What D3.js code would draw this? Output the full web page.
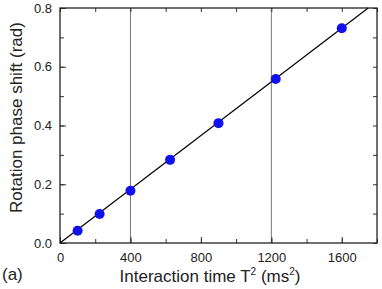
<!DOCTYPE html>
<html>
<head>
<meta charset="utf-8">
<script src="https://cdn.jsdelivr.net/npm/d3@7"></script>
<style>
  body { margin: 0; background: #fff; }
  text { font-family: "Liberation Sans", Arial, sans-serif; fill: #222; }
</style>
</head>
<body>
<div id="chart"></div>
<script>
// interaction time squared (ms^2) and measured phase shift (rad)
const tSquared = [100, 225, 400, 625, 900, 1225, 1600];
const phaseShift = [0.042, 0.099, 0.178, 0.283, 0.408, 0.558, 0.731];
const fitLine = [[0, 0], [1750, 0.8]];
const markerLines = [400, 1200];
const xTicks = [0, 400, 800, 1200, 1600];
const yTicks = [0.0, 0.2, 0.4, 0.6, 0.8];

const width = 382, height = 289;
const margin = {top: 8, right: 5, bottom: 46, left: 60};

const svg = d3.select("#chart").append("svg")
  .attr("width", width)
  .attr("height", height);

const x = d3.scaleLinear().domain([0, 1800]).range([margin.left, width - margin.right]);
const y = d3.scaleLinear().domain([0, 0.8]).range([height - margin.bottom, margin.top]);

// vertical reference lines
svg.selectAll(".vline")
  .data(markerLines)
  .enter().append("line")
  .attr("x1", d => x(d)).attr("x2", d => x(d))
  .attr("y1", y(0)).attr("y2", y(0.8))
  .attr("stroke", "#777")
  .attr("stroke-width", 1);

// axes, ticks inward
svg.append("g")
  .attr("transform", `translate(0,${y(0)})`)
  .call(d3.axisBottom(x).tickValues(d3.range(0, 1801, 200)).tickSize(-4).tickFormat(""))
  .call(g => g.select(".domain").remove());
svg.append("g")
  .attr("transform", `translate(0,${y(0)})`)
  .call(d3.axisBottom(x).tickValues(xTicks).tickSize(-6).tickPadding(10).tickFormat(d3.format("d")))
  .call(g => g.select(".domain").remove())
  .call(g => g.selectAll("text").style("font-size", "13px"));

svg.append("g")
  .attr("transform", `translate(0,${y(0.8)})`)
  .call(d3.axisTop(x).tickValues(d3.range(0, 1801, 200)).tickSize(-4).tickFormat(""))
  .call(g => g.select(".domain").remove());

svg.append("g")
  .attr("transform", `translate(${x(0)},0)`)
  .call(d3.axisLeft(y).tickValues(d3.range(0, 0.81, 0.1)).tickSize(-4).tickFormat(""))
  .call(g => g.select(".domain").remove());
svg.append("g")
  .attr("transform", `translate(${x(0)},0)`)
  .call(d3.axisLeft(y).tickValues(yTicks).tickSize(-6).tickPadding(8).tickFormat(d3.format(".1f")))
  .call(g => g.select(".domain").remove())
  .call(g => g.selectAll("text").style("font-size", "13px"));

svg.append("g")
  .attr("transform", `translate(${x(1800)},0)`)
  .call(d3.axisRight(y).tickValues(d3.range(0, 0.81, 0.1)).tickSize(-4).tickFormat(""))
  .call(g => g.select(".domain").remove());

svg.selectAll(".tick line").attr("stroke", "#333");

// frame
svg.append("rect")
  .attr("x", x(0)).attr("y", y(0.8))
  .attr("width", x(1800) - x(0)).attr("height", y(0) - y(0.8))
  .attr("fill", "none")
  .attr("stroke", "#222")
  .attr("stroke-width", 1.3);

// linear fit
const line = d3.line().x(d => x(d[0])).y(d => y(d[1]));
svg.append("path")
  .attr("d", line(fitLine))
  .attr("fill", "none")
  .attr("stroke", "#000")
  .attr("stroke-width", 1.2);

// data points
svg.selectAll(".pt")
  .data(tSquared)
  .enter().append("circle")
  .attr("cx", d => x(d))
  .attr("cy", (d, i) => y(phaseShift[i]))
  .attr("r", 5)
  .attr("fill", "#1010ee");

// axis titles
const xt = svg.append("text")
  .attr("x", 210)
  .attr("y", 282)
  .attr("text-anchor", "middle")
  .style("font-size", "17px");
xt.append("tspan").text("Interaction time T");
xt.append("tspan").attr("dy", -7).style("font-size", "10px").text("2");
xt.append("tspan").attr("dy", 7).text(" (ms");
xt.append("tspan").attr("dy", -7).style("font-size", "10px").text("2");
xt.append("tspan").attr("dy", 7).text(")");

svg.append("text")
  .attr("transform", `translate(22,${(y(0) + y(0.8)) / 2 - 8}) rotate(-90)`)
  .attr("text-anchor", "middle")
  .style("font-size", "17px")
  .text("Rotation phase shift (rad)");

svg.append("text")
  .attr("x", 2)
  .attr("y", 280)
  .style("font-size", "17px")
  .text("(a)");
</script>
</body>
</html>
